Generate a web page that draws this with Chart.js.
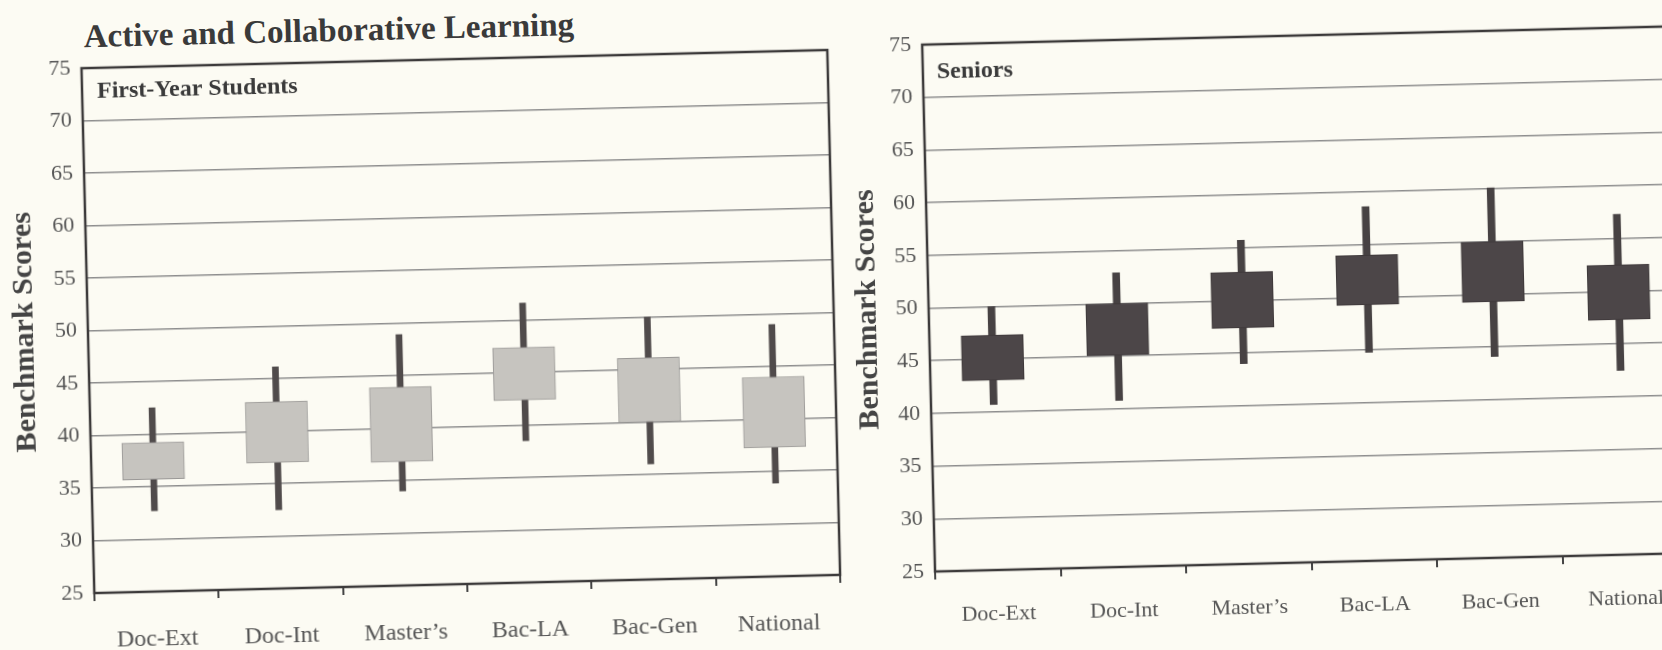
<!DOCTYPE html>
<html>
<head>
<meta charset="utf-8">
<script src="https://cdn.jsdelivr.net/npm/chart.js@4.4.0/dist/chart.umd.min.js"></script>
<style>
  html, body { margin:0; padding:0; background:#fcfbf3; overflow:hidden; width:1662px; height:650px; position:relative; }
  /* the printed page was scanned slightly tilted, so the whole sheet is turned a little */
  #sheet { position:absolute; left:0; top:0; width:1662px; height:650px; transform:rotate(-1.4deg); transform-origin:831px 325px; }
  #title { position:absolute; left:91px; top:-1px; line-height:38px; font-family:"Liberation Serif", "DejaVu Serif", serif; font-weight:bold; font-size:33px; color:#3a3a3a; white-space:nowrap; }
  #chart-left { position:absolute; left:0; top:0; }
  #chart-right { position:absolute; left:835px; top:0; }
</style>
</head>
<body>
<div id="sheet">
  <div id="title">Active and Collaborative Learning</div>
  <canvas id="chart-left" width="850" height="650"></canvas>
  <canvas id="chart-right" width="870" height="650"></canvas>
</div>
<script>
var categories = ['Doc-Ext', 'Doc-Int', 'Master\u2019s', 'Bac-LA', 'Bac-Gen', 'National'];
var yTicks = [25, 30, 35, 40, 45, 50, 55, 60, 65, 70, 75];

// First-Year Students: whisker low, box low, box high, whisker high
var fyMin = [32.7, 32.5, 34.0, 38.5, 36.0, 33.9];
var fyQ1  = [35.7, 37.0, 36.8, 42.4, 40.0, 37.3];
var fyQ3  = [39.2, 42.8, 43.9, 47.4, 46.1, 44.0];
var fyMax = [42.5, 46.1, 48.9, 51.6, 50.0, 49.0];

// Seniors
var srMin = [40.7, 40.8, 44.0, 44.8, 44.1, 42.5];
var srQ1  = [43.0, 45.1, 47.4, 49.3, 49.3, 47.3];
var srQ3  = [47.3, 50.0, 52.7, 54.0, 55.0, 52.5];
var srMax = [50.0, 52.9, 55.7, 58.6, 60.1, 57.3];

var serif = '"Liberation Serif", "DejaVu Serif", serif';

// frame around the plot + the panel label in the top left corner
var framePlugin = {
  id: 'framePlugin',
  afterDraw: function (chart, args, opts) {
    var ctx = chart.ctx, a = chart.chartArea;
    ctx.save();
    ctx.font = 'bold ' + opts.size + 'px ' + serif;
    ctx.fillStyle = '#3a3a3a';
    ctx.textBaseline = 'middle';
    ctx.fillText(opts.text, a.left + opts.dx, a.top + opts.dy);
    ctx.strokeStyle = '#3c3a3a';
    ctx.lineWidth = 2.5;
    ctx.strokeRect(a.left, a.top, a.right - a.left, a.bottom - a.top);
    ctx.restore();
  }
};

function pairs(lo, hi) {
  return lo.map(function (v, i) { return [v, hi[i]]; });
}

function make_chart(id, s) {
  var ctx = document.getElementById(id).getContext('2d');
  return new Chart(ctx, {
    type: 'bar',
    data: {
      labels: categories,
      datasets: [{
        label: 'box',
        data: pairs(s.q1, s.q3),
        backgroundColor: s.boxColor,
        borderColor: s.boxBorder,
        borderWidth: 1,
        borderSkipped: false,
        barThickness: 62,
        grouped: false,
        order: 0
      }, {
        label: 'range',
        data: pairs(s.min, s.max),
        backgroundColor: s.whiskerColor,
        borderWidth: 0,
        barThickness: s.whiskerWidth,
        grouped: false,
        order: 1
      }]
    },
    options: {
      responsive: false,
      animation: false,
      layout: { padding: { left: 0, right: s.padRight, top: s.padTop, bottom: 0 } },
      plugins: {
        legend: { display: false },
        tooltip: { enabled: false },
        framePlugin: { text: s.panel, dx: s.panelDx, dy: s.panelDy, size: 24 }
      },
      scales: {
        x: {
          offset: true,
          grid: { display: true, offset: true, drawOnChartArea: false, drawTicks: true, tickLength: 8, color: '#444', lineWidth: 2 },
          border: { display: false },
          ticks: { color: '#555', padding: s.xPad, maxRotation: 0, autoSkip: false, font: { size: s.xFont, family: serif } },
          afterFit: function (axis) { axis.height = s.xHeight; }
        },
        y: {
          min: 25,
          max: 75,
          afterBuildTicks: function (axis) { axis.ticks = yTicks.map(function (v) { return { value: v }; }); },
          ticks: { color: '#555', padding: 11, font: { size: 22, family: serif } },
          grid: { color: '#8e8e8e', lineWidth: 1.5, drawTicks: false },
          border: { display: false },
          title: {
            display: true,
            text: 'Benchmark Scores',
            color: '#444',
            font: { size: 30, weight: 'bold', family: serif },
            padding: { top: s.titlePad, bottom: 0 }
          },
          afterFit: function (axis) { axis.width = s.yWidth; }
        }
      }
    },
    plugins: [framePlugin]
  });
}

make_chart('chart-left', {
  min: fyMin, q1: fyQ1, q3: fyQ3, max: fyMax,
  boxColor: '#c6c4bf', boxBorder: '#9a9896', whiskerColor: '#504b4b', whiskerWidth: 6,
  panel: 'First-Year Students', panelDx: 15, panelDy: 24,
  padTop: 50, padRight: 16, xHeight: 75, xPad: 25, xFont: 24, yWidth: 88, titlePad: 7
});

make_chart('chart-right', {
  min: srMin, q1: srQ1, q3: srQ3, max: srMax,
  boxColor: '#4c4648', boxBorder: '#3e393a', whiskerColor: '#474243', whiskerWidth: 7,
  panel: 'Seniors', panelDx: 14, panelDy: 28,
  padTop: 47, padRight: 23, xHeight: 76, xPad: 23, xFont: 22, yWidth: 94, titlePad: 15
});
</script>
</body>
</html>
